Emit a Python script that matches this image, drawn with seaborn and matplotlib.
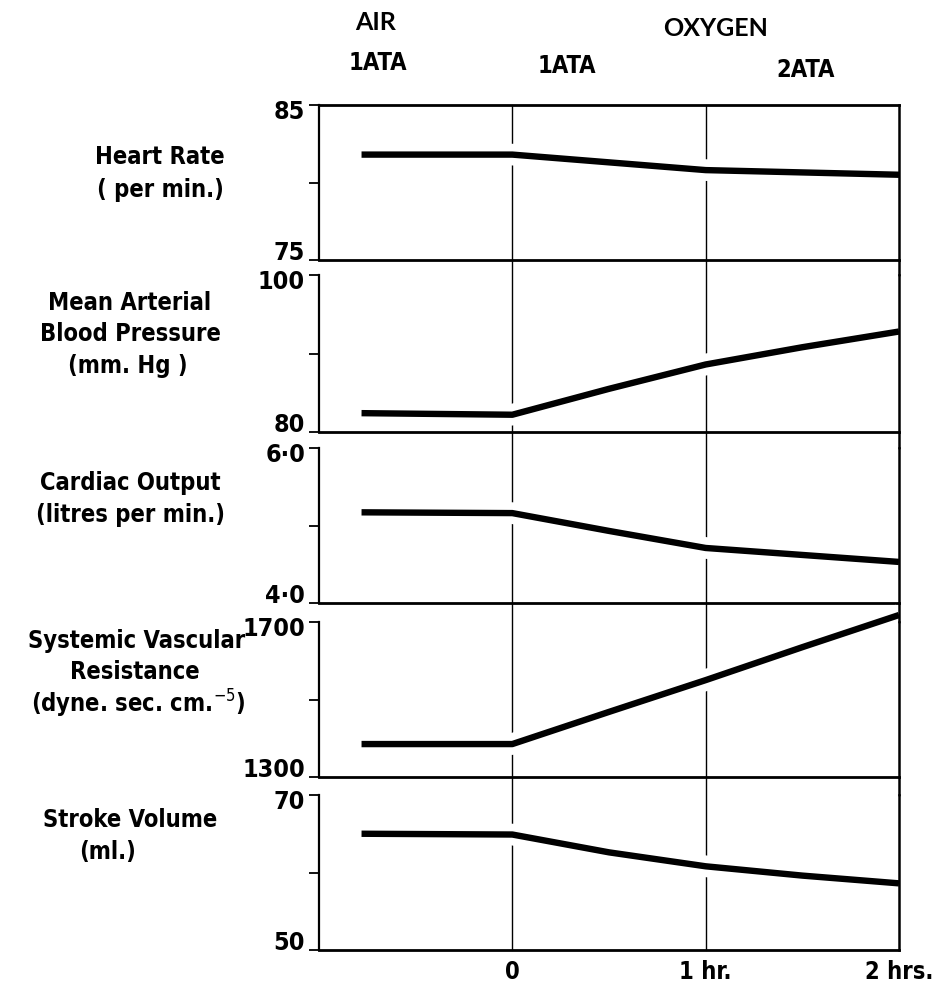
import matplotlib
matplotlib.use("Agg")
import matplotlib.pyplot as plt
import matplotlib.patheffects as pe
import matplotlib.transforms as mtransforms
import seaborn as sns
import pandas as pd

# ---------------- data ----------------
hours = [-0.78, 0.0, 0.5, 1.0, 1.5, 2.0]
heart_rate = [81.8, 81.8, 81.3, 80.8, 80.65, 80.5]
map_bp = [82.4, 82.2, 85.5, 88.6, 90.8, 92.8]
cardiac_output = [5.17, 5.16, 4.93, 4.71, 4.62, 4.53]
svr = [1385, 1385, 1468, 1550, 1635, 1718]
stroke_volume = [65.0, 64.9, 62.6, 60.8, 59.6, 58.6]

series = [heart_rate, map_bp, cardiac_output, svr, stroke_volume]
y_limits = [(75, 85), (80, 100), (4.0, 6.0), (1300, 1700), (50, 70)]
y_ticklabels = [("75", "85"), ("80", "100"), ("4·0", "6·0"), ("1300", "1700"), ("50", "70")]
x_ticks = [0, 1, 2]
x_ticklabels = ["0", "1 hr.", "2 hrs."]

panel_labels = [
    ["Heart Rate", "( per min.)"],
    ["Mean Arterial", "Blood Pressure", "(mm. Hg )"],
    ["Cardiac Output", "(litres per min.)"],
    ["Systemic Vascular", "Resistance", "(dyne. sec. cm.$^{-5}$)"],
    ["Stroke Volume", "(ml.)"],
]
headers_top = ["AIR", "OXYGEN"]
headers_sub = ["1ATA", "1ATA", "2ATA"]

# ---------------- style ----------------
sns.set_style("ticks")
plt.rcParams["font.family"] = ["DejaVu Sans"]
plt.rcParams["font.stretch"] = "condensed"
plt.rcParams["mathtext.fontset"] = "dejavusans"
plt.rcParams["text.color"] = "black"
plt.rcParams["xtick.color"] = "black"
plt.rcParams["ytick.color"] = "black"

W, H = 933, 999
fig = plt.figure(figsize=(W / 100, H / 100), dpi=100)

panel_px = [(105, 260), (275, 432), (448, 603), (622, 777), (795, 950)]
left_px, right_px = 319, 899

axes = []
for (top, bot) in panel_px:
    ax = fig.add_axes([left_px / W, 1 - bot / H, (right_px - left_px) / W, (bot - top) / H])
    axes.append(ax)

line_lw = 4.6
up = mtransforms.ScaledTranslation(0, 5 / 100, fig.dpi_scale_trans)
down = mtransforms.ScaledTranslation(0, -5 / 100, fig.dpi_scale_trans)
for i, ax in enumerate(axes):
    df = pd.DataFrame({"hours": hours, "value": series[i]})
    sns.lineplot(data=df, x="hours", y="value", ax=ax, color="black", lw=line_lw,
                 clip_on=False, solid_capstyle="butt", solid_joinstyle="round",
                 path_effects=[pe.Stroke(linewidth=line_lw + 11, foreground="white"), pe.Normal()],
                 zorder=2)
    lo, hi = y_limits[i]
    ax.set_xlim(-1, 2)
    ax.set_ylim(lo, hi)
    ax.set_yticks([lo, (lo + hi) / 2, hi])
    ax.set_yticklabels([y_ticklabels[i][0], "", y_ticklabels[i][1]], fontsize=18,
                       fontweight="bold", fontstretch="condensed")
    ax.tick_params(axis="y", direction="out", length=7, width=1.3, pad=3, color="black")
    labs = ax.get_yticklabels()
    labs[0].set_va("bottom")
    labs[0].set_transform(labs[0].get_transform() + down)
    labs[2].set_va("top")
    labs[2].set_transform(labs[2].get_transform() + up)
    ax.set_xlabel("")
    ax.set_ylabel("")
    for s in ["left", "bottom", "right"]:
        ax.spines[s].set_visible(True)
        ax.spines[s].set_color("black")
    ax.spines["left"].set_linewidth(1.6)
    ax.spines["bottom"].set_linewidth(2.0)
    ax.spines["right"].set_linewidth(1.8)
    ax.spines["top"].set_visible(i == 0)
    ax.spines["top"].set_color("black")
    ax.spines["top"].set_linewidth(2.0)

    if i > 0:
        gap = (panel_px[i][0] - panel_px[i - 1][1]) / (panel_px[i][1] - panel_px[i][0])
        ymax = 1 + gap
        ax.axvline(2, ymin=1, ymax=ymax, color="black", lw=1.8, clip_on=False, zorder=3)
    else:
        ymax = 1
    for xv in x_ticks[:2]:
        ax.axvline(xv, ymin=0, ymax=ymax, color="black", lw=1.0, clip_on=False, zorder=1)

    if i < len(axes) - 1:
        ax.set_xticks([])
    else:
        ax.set_xticks(x_ticks)
        ax.set_xticklabels(x_ticklabels, fontsize=17, fontweight="bold",
                           fontstretch="condensed")
        ax.tick_params(axis="x", length=0, pad=7)

label_px = [
    [(160, 157), (160, 190)],
    [(130, 303), (130, 334), (128, 366)],
    [(130, 483), (131, 515)],
    [(137, 641), (135, 672), (138, 704)],
    [(130, 820), (108, 852)],
]
for lines, pos in zip(panel_labels, label_px):
    for txt, (x, y) in zip(lines, pos):
        fig.text(x / W, 1 - y / H, txt, ha="center", va="center", fontsize=17,
                 fontweight="bold", fontstretch="condensed")

hdr_font = ["Lato", "DejaVu Sans"]
for txt, (x, y) in zip(headers_top, [(376, 22), (716, 29)]):
    fig.text(x / W, 1 - y / H, txt, ha="center", va="center", fontsize=18,
             family=hdr_font, fontweight="bold", fontstretch="normal")
for txt, (x, y) in zip(headers_sub, [(378, 63), (567, 66), (806, 70)]):
    fig.text(x / W, 1 - y / H, txt, ha="center", va="center", fontsize=17,
             fontweight="bold", fontstretch="condensed")

fig.savefig("out.png", dpi=100)
